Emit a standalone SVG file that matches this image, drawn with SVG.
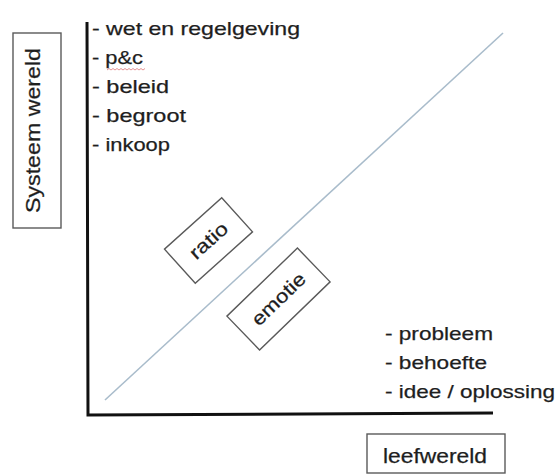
<svg xmlns="http://www.w3.org/2000/svg" width="558" height="476" viewBox="0 0 558 476">
<style>
  .t { font-family: "Liberation Sans", Arial, sans-serif; fill: #1e1e1e; stroke: #1e1e1e; stroke-width: 0.25; }
  .lst { font-size: 19px; }
  .box { fill: none; stroke: #5a5a5a; stroke-width: 1.4; }
  .axis { fill: none; stroke: #111; stroke-width: 3; stroke-linejoin: miter; }
  .diag { stroke: #a9bccb; stroke-width: 1.6; }
</style>
<rect width="558" height="476" fill="#ffffff"/>
<g id="connectors">
  <polyline class="axis" points="87,22 88,415 493,413"/>
  <line class="diag" x1="105" y1="400" x2="503" y2="33"/>
</g>
<g id="systeemwereld">
  <rect class="box" x="13" y="33" width="48" height="195"/>
  <text class="t" font-size="20" transform="translate(40,213) rotate(-90)" textLength="165" lengthAdjust="spacingAndGlyphs">Systeem wereld</text>
</g>
<g id="leefwereld">
  <rect class="box" x="367" y="434" width="138" height="39"/>
  <text class="t" font-size="20" x="383" y="463" textLength="104" lengthAdjust="spacingAndGlyphs">leefwereld</text>
</g>
<g id="systeem-lijst">
  <text class="t lst" x="92" y="35" textLength="208" lengthAdjust="spacingAndGlyphs">- wet en regelgeving</text>
  <text class="t lst" x="92" y="64" textLength="51" lengthAdjust="spacingAndGlyphs">- p&amp;c</text>
  <path d="M107,70 l2,-1.5 l2,1.5 l2,-1.5 l2,1.5 l2,-1.5 l2,1.5 l2,-1.5 l2,1.5 l2,-1.5 l2,1.5 l2,-1.5 l2,1.5 l2,-1.5 l2,1.5 l2,-1.5 l2,1.5 l2,-1.5 l2,1.5 l2,-1.5" fill="none" stroke="#d04040" stroke-width="0.8" opacity="0.7"/>
  <text class="t lst" x="92" y="93" textLength="77" lengthAdjust="spacingAndGlyphs">- beleid</text>
  <text class="t lst" x="92" y="122" textLength="94" lengthAdjust="spacingAndGlyphs">- begroot</text>
  <text class="t lst" x="92" y="151" textLength="78" lengthAdjust="spacingAndGlyphs">- inkoop</text>
</g>
<g id="leef-lijst">
  <text class="t lst" x="385" y="340" textLength="108" lengthAdjust="spacingAndGlyphs">- probleem</text>
  <text class="t lst" x="385" y="369" textLength="102" lengthAdjust="spacingAndGlyphs">- behoefte</text>
  <text class="t lst" x="385" y="398" textLength="170" lengthAdjust="spacingAndGlyphs">- idee / oplossing</text>
</g>
<g id="ratio" transform="translate(208.5,240.5) rotate(-42)">
  <rect class="box" x="-38.5" y="-23" width="77" height="46"/>
  <text class="t" font-size="19" x="-22.5" y="6.5" textLength="45" lengthAdjust="spacingAndGlyphs">ratio</text>
</g>
<g id="emotie" transform="translate(278.5,299) rotate(-44)">
  <rect class="box" x="-49" y="-23.5" width="98" height="47"/>
  <text class="t" font-size="19" x="-33.5" y="6.5" textLength="67" lengthAdjust="spacingAndGlyphs">emotie</text>
</g>
</svg>
